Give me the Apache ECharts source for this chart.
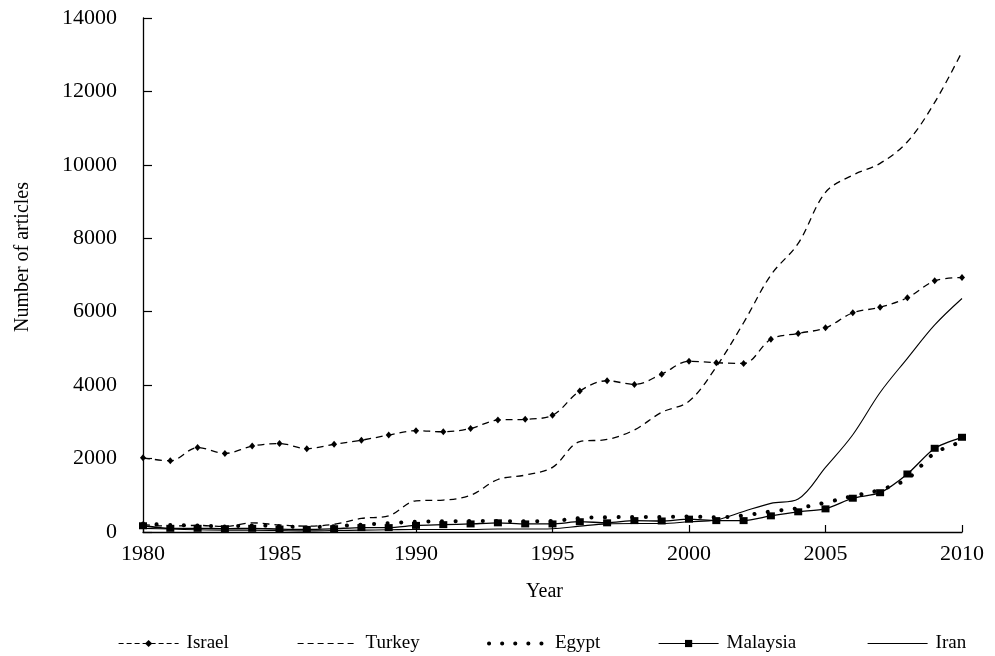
<!DOCTYPE html>
<html>
<head>
<meta charset="utf-8">
<script src="https://cdn.jsdelivr.net/npm/echarts@6/dist/echarts.min.js"></script>
<style>
html,body{margin:0;padding:0;background:#fff;}
#chart{width:995px;height:656px;}
</style>
</head>
<body>
<div id="chart"></div>
<script>
const years = [1980,1981,1982,1983,1984,1985,1986,1987,1988,1989,1990,1991,1992,1993,1994,1995,1996,1997,1998,1999,2000,2001,2002,2003,2004,2005,2006,2007,2008,2009,2010];
const israel = [2020,1940,2300,2140,2340,2410,2270,2390,2500,2640,2760,2730,2820,3050,3070,3180,3840,4120,4020,4300,4650,4610,4590,5250,5410,5560,5970,6120,6380,6840,6930];
const turkey = [200,160,180,150,250,190,160,210,370,440,850,870,1000,1430,1550,1760,2460,2520,2780,3260,3560,4500,5700,7000,7860,9250,9720,10040,10630,11700,13080];
const egypt = [230,190,180,150,180,160,130,160,200,240,280,290,300,300,290,300,380,400,410,410,420,400,450,560,650,800,980,1150,1450,2150,2450];
const malaysia = [170,100,100,90,100,80,70,90,120,120,180,200,220,250,220,220,280,250,310,300,350,310,310,440,550,630,920,1070,1580,2280,2580];
const iran = [100,80,60,50,50,40,30,40,50,60,70,70,70,80,80,90,160,220,230,230,280,330,560,780,900,1760,2650,3800,4730,5640,6360];
const seriesNames = ['Israel', 'Turkey', 'Egypt', 'Malaysia', 'Iran'];

const pair = arr => years.map((y, i) => [y, arr[i]]);
const font = 'Liberation Serif';
const black = '#000';

const chart = echarts.init(document.getElementById('chart'));
const legendBase = {
  orient: 'horizontal',
  top: 634,
  itemWidth: 60,
  itemHeight: 9,
  padding: 0,
  textStyle: {fontFamily: font, fontSize: 19, color: black, padding: [0, 0, 0, 3]}
};
const hidden = {color: 'rgba(0,0,0,0)', borderWidth: 0};
chart.setOption({
  animation: false,
  backgroundColor: '#fff',
  grid: {left: 143, right: 33, top: 18, bottom: 124, containLabel: false},
  legend: [
    Object.assign({}, legendBase, {left: 118, data: [{name: seriesNames[0], lineStyle: {width: 1.2, type: [5, 3]}}]}),
    Object.assign({}, legendBase, {left: 297, data: [{name: seriesNames[1], itemStyle: hidden, lineStyle: {width: 1.2, type: [6, 4]}}]}),
    Object.assign({}, legendBase, {left: 485, data: [{name: seriesNames[2], itemStyle: hidden, lineStyle: {width: 4, type: [0.1, 13], cap: 'round', dashOffset: -2}}]}),
    Object.assign({}, legendBase, {left: 658, data: [{name: seriesNames[3], lineStyle: {width: 1.2}}]}),
    Object.assign({}, legendBase, {left: 867, data: [{name: seriesNames[4], itemStyle: hidden, lineStyle: {width: 1.2}}]})
  ],
  xAxis: {
    type: 'value', min: 1980, max: 2010, interval: 5,
    name: 'Year', nameLocation: 'middle', nameGap: 50,
    nameTextStyle: {fontFamily: font, fontSize: 20, color: black, padding: [0, 16, 0, 0]},
    axisLine: {lineStyle: {color: black, width: 1.3}},
    axisTick: {inside: true, length: 7, lineStyle: {color: black, width: 1.2}},
    axisLabel: {fontFamily: font, fontSize: 22, color: black, margin: 11, formatter: v => String(v)},
    splitLine: {show: false}
  },
  yAxis: {
    type: 'value', min: 0, max: 14000, interval: 2000,
    name: 'Number of articles', nameLocation: 'middle', nameGap: 110,
    nameTextStyle: {fontFamily: font, fontSize: 20, color: black, padding: [0, 0, 0, 36]},
    axisLine: {show: true, lineStyle: {color: black, width: 1.3}},
    axisTick: {show: true, inside: true, length: 9, lineStyle: {color: black, width: 1.2}},
    axisLabel: {fontFamily: font, fontSize: 22, color: black, margin: 26, formatter: v => String(v)},
    splitLine: {show: false}
  },
  series: [
    {
      name: seriesNames[0], type: 'line', data: pair(israel), smooth: 0.35,
      symbol: 'diamond', symbolSize: [6, 7],
      lineStyle: {color: black, width: 1.3, type: [7, 5]},
      itemStyle: {color: black}, z: 3
    },
    {
      name: seriesNames[1], type: 'line', data: pair(turkey), smooth: 0.35,
      symbol: 'none',
      lineStyle: {color: black, width: 1.3, type: [7, 5]},
      itemStyle: {color: black}, z: 2
    },
    {
      name: seriesNames[2], type: 'line', data: pair(egypt), smooth: 0.35,
      symbol: 'none',
      lineStyle: {color: black, width: 4, type: [0.1, 13.5], cap: 'round'},
      itemStyle: {color: black}, z: 2
    },
    {
      name: seriesNames[3], type: 'line', data: pair(malaysia), smooth: 0.25,
      symbol: 'rect', symbolSize: [8, 7],
      lineStyle: {color: black, width: 1.3},
      itemStyle: {color: black}, z: 4
    },
    {
      name: seriesNames[4], type: 'line', data: pair(iran), smooth: 0.35,
      symbol: 'none',
      lineStyle: {color: black, width: 1.1},
      itemStyle: {color: black}, z: 2
    }
  ]
});
</script>
</body>
</html>
